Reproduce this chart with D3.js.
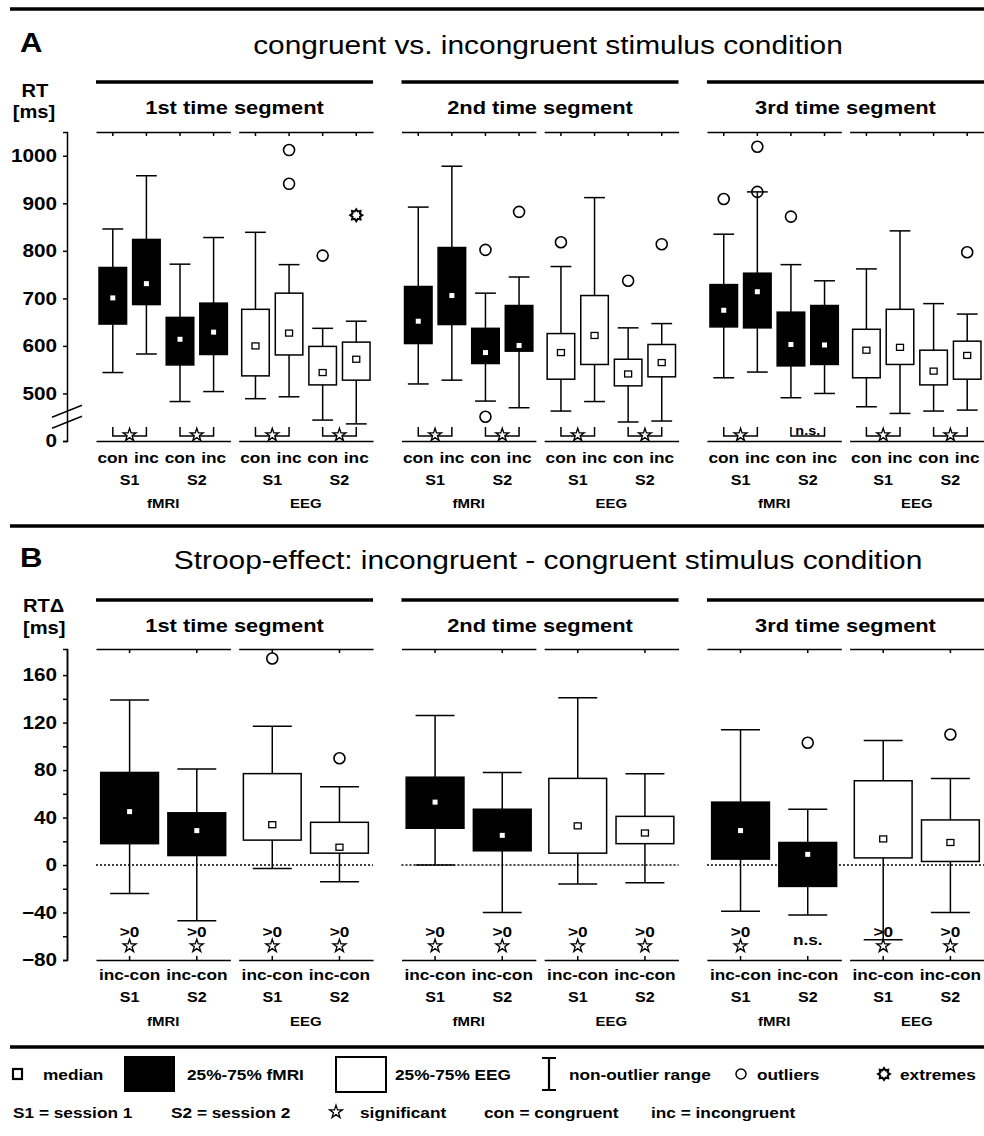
<!DOCTYPE html>
<html>
<head>
<meta charset="utf-8">
<script src="https://cdn.jsdelivr.net/npm/d3@7"></script>
<style>
  body { margin: 0; background: #fff; }
  svg text { font-family: "Liberation Sans", Arial, sans-serif; fill: #000; }
</style>
</head>
<body>
<div id="chart"></div>
<script>
const segments = ["1st time segment", "2nd time segment", "3rd time segment"];
const groups = ["fMRI", "EEG"];
const sessions = ["S1", "S2"];
const conditions = ["con", "inc"];

// panel A: [lower whisker, 25%, median, 75%, upper whisker] in ms
// order: fMRI S1 con, fMRI S1 inc, fMRI S2 con, fMRI S2 inc, EEG S1 con, EEG S1 inc, EEG S2 con, EEG S2 inc
const rtSegment1 = [
  [544, 646, 701, 765, 846],
  [583, 687, 731, 824, 958],
  [483, 560, 614, 660, 772],
  [504, 582, 629, 690, 828],
  [489, 537, 600, 677, 839],
  [493, 581, 627, 711, 771],
  [444, 518, 544, 599, 637],
  [436, 528, 572, 608, 652],
];
const rtSegment2 = [
  [520, 605, 652, 725, 892],
  [528, 645, 706, 807, 978],
  [484, 563, 586, 637, 711],
  [470, 589, 601, 685, 745],
  [463, 530, 586, 626, 767],
  [483, 561, 622, 706, 912],
  [440, 516, 541, 572, 638],
  [442, 535, 565, 603, 647],
];
const rtSegment3 = [
  [533, 640, 675, 729, 835],
  [545, 638, 714, 753, 924],
  [491, 558, 603, 671, 771],
  [500, 561, 602, 685, 737],
  [472, 533, 591, 635, 762],
  [458, 561, 597, 677, 842],
  [463, 518, 547, 591, 689],
  [465, 530, 580, 610, 667],
];
// [segment, box, value]
const rtOutliers = [
  [0, 5, 1012], [0, 5, 941], [0, 6, 790],
  [1, 2, 802], [1, 2, 451], [1, 3, 882], [1, 4, 818], [1, 6, 737], [1, 7, 814],
  [2, 0, 909], [2, 1, 1019], [2, 1, 924], [2, 2, 872], [2, 7, 797],
];
const rtExtremes = [[0, 7, 875]];
// con vs inc per pair: fMRI S1, fMRI S2, EEG S1, EEG S2
const rtSignificant = [
  [true, true, true, true],
  [true, true, true, true],
  [true, false, true, true],
];
// the axis is broken: the bottom tick stands for 0
const rtTickValues = [400, 500, 600, 700, 800, 900, 1000];
const rtTickLabels = ["0", "500", "600", "700", "800", "900", "1000"];

// panel B: inc - con, order fMRI S1, fMRI S2, EEG S1, EEG S2
const deltaSegment1 = [
  [-24, 18, 45, 78, 139],
  [-47, 8, 29, 44, 81],
  [-3, 21, 34, 77, 117],
  [-14, 10, 15, 36, 66],
];
const deltaSegment2 = [
  [0, 31, 53, 74, 126],
  [-40, 12, 25, 47, 78],
  [-16, 10, 33, 73, 141],
  [-15, 18, 27, 41, 77],
];
const deltaSegment3 = [
  [-39, 5, 29, 53, 114],
  [-42, -18, 9, 19, 47],
  [-63, 6, 22, 71, 105],
  [-40, 3, 19, 38, 73],
];
const deltaOutliers = [[0, 2, 174], [0, 3, 90], [2, 1, 103], [2, 3, 110]];
const deltaSignificant = [
  [true, true, true, true],
  [true, true, true, true],
  [true, false, true, true],
];
const deltaTickValues = [-80, -40, 0, 40, 80, 120, 160];
const deltaMinorTicks = [-60, -20, 20, 60, 100, 140];

// the original lettering is a bit wider than Arial
const stretch = 1.15;

const svg = d3.select('#chart').append('svg')
  .attr('width', 984)
  .attr('height', 1136);

function addText(g, x, y, str, size, weight, anchor) {
  return g.append('text')
    .attr('transform', `translate(${x},${y}) scale(${stretch},1)`)
    .attr('font-size', size)
    .attr('font-weight', weight || 'bold')
    .attr('text-anchor', anchor || 'middle')
    .text(str);
}

function hline(g, x1, x2, y, w) {
  g.append('line')
    .attr('x1', x1).attr('x2', x2)
    .attr('y1', y).attr('y2', y)
    .attr('stroke', '#000')
    .attr('stroke-width', w);
}

function styleAxis(ax, size) {
  ax.selectAll('path, line').attr('stroke', '#000').attr('stroke-width', 1.5);
  ax.selectAll('text')
    .attr('font-size', size)
    .attr('font-weight', 'bold')
    .attr('font-family', '"Liberation Sans", Arial, sans-serif')
    .attr('fill', '#000')
    .attr('transform', `scale(${stretch},1)`);
}

function gearPath(cx, cy, r1, r2, n) {
  const pts = d3.range(n * 2).map(k => {
    const a = Math.PI * k / n;
    const r = k % 2 ? r2 : r1;
    return [cx + r * Math.sin(a), cy - r * Math.cos(a)];
  });
  return d3.line()(pts) + 'Z';
}

const star = d3.symbol(d3.symbolStar, 52);

// separators
[9, 526, 1047].forEach(y => hline(svg, 10, 984, y, 3.5));

// SCALES
const xSeg = d3.scaleBand().domain(segments).range([96, 984]).paddingInner(0.093);
const xGroup = d3.scaleBand().domain(groups).range([0, xSeg.bandwidth()]).paddingInner(0.058);

function drawPanel(opt) {
  const g = svg.append('g');
  const y = opt.y;
  const [yBottom, yTop] = y.range();
  const xBox = d3.scaleBand().domain(d3.range(opt.perGroup)).range([0, xGroup.bandwidth()]);
  const bw = xBox.bandwidth();

  addText(g, 20, opt.letterY, opt.letter, 27, 'bold', 'start');
  addText(g, 548, opt.letterY + 2, opt.title, 26, 'normal');

  segments.forEach((seg, s) => {
    const sx = xSeg(seg);
    hline(g, sx, sx + xSeg.bandwidth(), opt.headerY, 3.5);
    addText(g, sx + xSeg.bandwidth() / 2, opt.headerY + 32, seg, 19);

    if (opt.zeroLine) {
      g.append('line')
        .attr('x1', sx).attr('x2', sx + xSeg.bandwidth())
        .attr('y1', y(0)).attr('y2', y(0))
        .attr('stroke', '#000')
        .attr('stroke-width', 1.5)
        .attr('stroke-dasharray', '2,2');
    }

    groups.forEach((grp, gi) => {
      const gx = sx + xGroup(grp);
      const gg = g.append('g').attr('transform', `translate(${gx},0)`);

      const top = gg.append('g')
        .attr('transform', `translate(0,${yTop})`)
        .call(d3.axisBottom(xBox).tickSize(4).tickSizeOuter(0).tickFormat(''));
      styleAxis(top, 10);
      const bottom = gg.append('g')
        .attr('transform', `translate(0,${yBottom})`)
        .call(d3.axisTop(xBox).tickSize(opt.bottomTick).tickSizeOuter(0).tickFormat(''));
      styleAxis(bottom, 10);

      const cx = j => xBox(j) + bw / 2;
      const fill = gi === 0 ? '#000' : '#fff';

      d3.range(opt.perGroup).forEach(j => {
        const i = gi * opt.perGroup + j;
        const [lo, q1, med, q3, hi] = opt.data[s][i];
        const x = cx(j);
        gg.append('line')
          .attr('x1', x).attr('x2', x)
          .attr('y1', y(lo)).attr('y2', y(hi))
          .attr('stroke', '#000').attr('stroke-width', 1.5);
        [lo, hi].forEach(v => {
          gg.append('line')
            .attr('x1', x - bw * opt.capFrac / 2).attr('x2', x + bw * opt.capFrac / 2)
            .attr('y1', y(v)).attr('y2', y(v))
            .attr('stroke', '#000').attr('stroke-width', 1.5);
        });
        gg.append('rect')
          .attr('x', x - bw * opt.boxFrac / 2)
          .attr('width', bw * opt.boxFrac)
          .attr('y', y(q3))
          .attr('height', y(q1) - y(q3))
          .attr('fill', fill)
          .attr('stroke', '#000')
          .attr('stroke-width', 1.5);
        if (gi === 0) {
          gg.append('rect')
            .attr('x', x - 2.5).attr('y', y(med) - 2.5)
            .attr('width', 5).attr('height', 5)
            .attr('fill', '#fff');
        } else {
          gg.append('rect')
            .attr('x', x - 3.5).attr('y', y(med) - 3)
            .attr('width', 7).attr('height', 6)
            .attr('fill', '#fff')
            .attr('stroke', '#000').attr('stroke-width', 1.3);
        }

        opt.outliers.filter(o => o[0] === s && o[1] === i).forEach(o => {
          gg.append('circle')
            .attr('cx', x).attr('cy', y(o[2])).attr('r', 5.5)
            .attr('fill', 'none').attr('stroke', '#000').attr('stroke-width', 1.6);
        });
        (opt.extremes || []).filter(o => o[0] === s && o[1] === i).forEach(o => {
          gg.append('path')
            .attr('d', gearPath(x, y(o[2]), 6, 4, 8))
            .attr('fill', '#fff').attr('stroke', '#000').attr('stroke-width', 2);
        });

        if (opt.perGroup === 4) {
          addText(gg, x, 463, conditions[j % 2], 15);
        } else {
          addText(gg, x, 980, 'inc-con', 15);
          addText(gg, x, 1002, sessions[j], 14);
          const sig = opt.significant[s][gi * 2 + j];
          if (sig) {
            addText(gg, x, 937, '>0', 15);
            gg.append('path')
              .attr('transform', `translate(${x},946)`)
              .attr('d', star)
              .attr('fill', '#fff').attr('stroke', '#000').attr('stroke-width', 1.3);
          } else {
            addText(gg, x, 945, 'n.s.', 15);
          }
        }
      });

      if (opt.perGroup === 4) {
        // brackets con vs inc per session
        sessions.forEach((ses, p) => {
          const x1 = cx(p * 2), x2 = cx(p * 2 + 1);
          const by = yBottom - 5;
          gg.append('path')
            .attr('d', `M${x1},${by - 9}V${by}H${x2}V${by - 9}`)
            .attr('fill', 'none').attr('stroke', '#000').attr('stroke-width', 1.5);
          if (opt.significant[s][gi * 2 + p]) {
            gg.append('path')
              .attr('transform', `translate(${(x1 + x2) / 2},${by - 1})`)
              .attr('d', star)
              .attr('fill', '#fff').attr('stroke', '#000').attr('stroke-width', 1.3);
          } else {
            addText(gg, (x1 + x2) / 2, by - 1, 'n.s.', 12.5);
          }
          addText(gg, (x1 + x2) / 2, 485, ses, 14);
        });
        addText(gg, xGroup.bandwidth() / 2, 508, grp, 13);
      } else {
        addText(gg, xGroup.bandwidth() / 2, 1026, grp, 13);
      }
    });
  });

  return g;
}

// PANEL A
const yA = d3.scaleLinear().domain([400, 1050]).range([441, 132]);
const gA = drawPanel({
  letter: 'A', letterY: 52, title: 'congruent vs. incongruent stimulus condition',
  headerY: 82, y: yA, perGroup: 4, data: [rtSegment1, rtSegment2, rtSegment3],
  outliers: rtOutliers, extremes: rtExtremes, significant: rtSignificant,
  boxFrac: 0.82, capFrac: 0.62, bottomTick: 0,
});
addText(gA, 35, 97, 'RT', 17.5);
addText(gA, 34, 118, '[ms]', 17.5);
const axA = gA.append('g')
  .attr('transform', 'translate(67,0)')
  .call(d3.axisLeft(yA).tickValues(rtTickValues)
    .tickFormat((d, i) => rtTickLabels[i]).tickSize(4).tickPadding(4.7));
styleAxis(axA, 18);
// axis break marks
const breakY = (yA(400) + yA(500)) / 2;
[-6, 5].forEach(off => {
  gA.append('line')
    .attr('x1', 52).attr('x2', 82)
    .attr('y1', breakY + off + 6).attr('y2', breakY + off - 6)
    .attr('stroke', '#000').attr('stroke-width', 1.5);
});

// PANEL B
const yB = d3.scaleLinear().domain([-80, 182]).range([960, 649]);
const gB = drawPanel({
  letter: 'B', letterY: 567, title: 'Stroop-effect: incongruent - congruent stimulus condition',
  headerY: 600, y: yB, perGroup: 2, data: [deltaSegment1, deltaSegment2, deltaSegment3],
  outliers: deltaOutliers, significant: deltaSignificant,
  boxFrac: 0.86, capFrac: 0.58, bottomTick: 4, zeroLine: true,
});
addText(gB, 23, 612, 'RT\u0394', 17.5, 'bold', 'start');
addText(gB, 23, 634, '[ms]', 17.5, 'bold', 'start');
const axB = gB.append('g')
  .attr('transform', 'translate(67,0)')
  .call(d3.axisLeft(yB).tickValues(deltaTickValues).tickSize(4).tickPadding(4.7));
styleAxis(axB, 18);
const axBMinor = gB.append('g')
  .attr('transform', 'translate(67,0)')
  .call(d3.axisLeft(yB).tickValues(deltaMinorTicks).tickFormat('').tickSize(4).tickSizeOuter(0));
styleAxis(axBMinor, 10);

// LEGEND
const leg = svg.append('g');
leg.append('rect').attr('x', 13).attr('y', 1069).attr('width', 9).attr('height', 10)
  .attr('fill', '#fff').attr('stroke', '#000').attr('stroke-width', 2.2);
addText(leg, 43, 1080, 'median', 15, 'bold', 'start');
leg.append('rect').attr('x', 124).attr('y', 1056).attr('width', 51).attr('height', 36).attr('fill', '#000');
addText(leg, 187, 1080, '25%-75% fMRI', 15, 'bold', 'start');
leg.append('rect').attr('x', 336).attr('y', 1057).attr('width', 50).attr('height', 35)
  .attr('fill', '#fff').attr('stroke', '#000').attr('stroke-width', 2);
addText(leg, 395, 1080, '25%-75% EEG', 15, 'bold', 'start');
leg.append('path').attr('d', 'M542,1058H556M549,1058V1090M542,1090H556')
  .attr('fill', 'none').attr('stroke', '#000').attr('stroke-width', 2.2);
addText(leg, 569, 1080, 'non-outlier range', 15, 'bold', 'start');
leg.append('circle').attr('cx', 741).attr('cy', 1074).attr('r', 5)
  .attr('fill', 'none').attr('stroke', '#000').attr('stroke-width', 1.5);
addText(leg, 757, 1080, 'outliers', 15, 'bold', 'start');
leg.append('path').attr('d', gearPath(884, 1074, 6, 4, 8))
  .attr('fill', '#fff').attr('stroke', '#000').attr('stroke-width', 2);
addText(leg, 900, 1080, 'extremes', 15, 'bold', 'start');

addText(leg, 13, 1118, 'S1 = session 1', 15, 'bold', 'start');
addText(leg, 171, 1118, 'S2 = session 2', 15, 'bold', 'start');
leg.append('path').attr('transform', 'translate(336,1112)').attr('d', star)
  .attr('fill', '#fff').attr('stroke', '#000').attr('stroke-width', 1.3);
addText(leg, 360, 1118, 'significant', 15, 'bold', 'start');
addText(leg, 484, 1118, 'con = congruent', 15, 'bold', 'start');
addText(leg, 651, 1118, 'inc = incongruent', 15, 'bold', 'start');
</script>
</body>
</html>
